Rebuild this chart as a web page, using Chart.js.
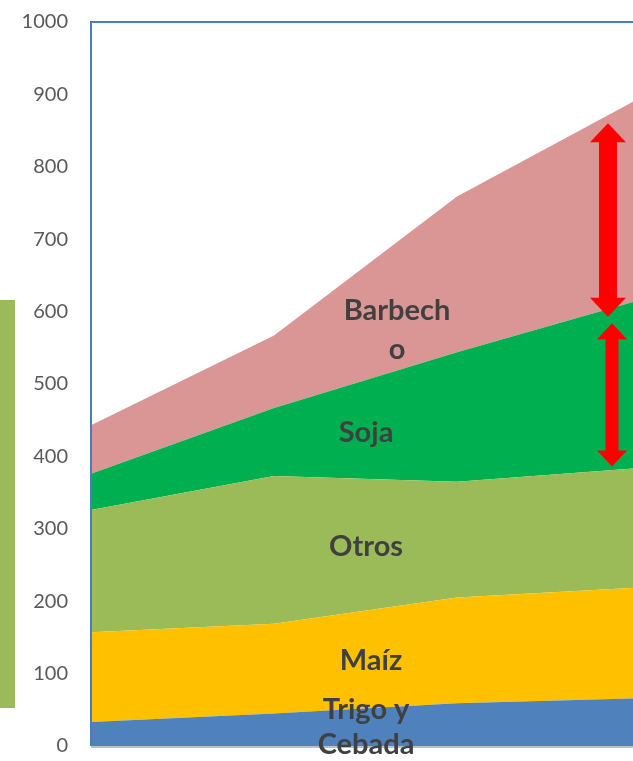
<!DOCTYPE html>
<html><head><meta charset="utf-8">
<script src="https://cdn.jsdelivr.net/npm/chart.js@4"></script>
<style>
html,body{margin:0;padding:0;overflow:hidden;background:#fff;width:633px;height:761px;}
#wrap{position:absolute;left:0;top:-13px;width:642px;height:794px;}
#side{position:absolute;left:0;top:300px;width:15px;height:408px;background:#9BBB59;}
</style></head><body>
<div id="wrap"><canvas id="c"></canvas></div>
<div id="side"></div>
<script>
// Data (x positions 0..3 = four periods)
const periods = [0, 1, 2, 3];
const trigoCebada = [33, 45, 59, 66];
const maiz = [124, 124, 146, 153];
const otros = [169, 204, 160, 165];
const soja = [50, 94, 179, 232];
const barbecho = [67, 100, 215, 279];
const yTicks = [0,100,200,300,400,500,600,700,800,900,1000];

const seriesNames = ['Trigo y Cebada', 'Maíz', 'Otros', 'Soja', 'Barbecho'];
const seriesValues = [trigoCebada, maiz, otros, soja, barbecho];
const seriesColors = ['#4F81BD', '#FFC000', '#9BBB59', '#00B050', '#D99694'];

// In-area labels (data coordinates)
const areaLabels = [
  {lines: ['Barbech', 'o'], x: 1.672, y: [589, 535]},
  {lines: ['Soja'], x: 1.503, y: [420]},
  {lines: ['Otros'], x: 1.503, y: [262]},
  {lines: ['Maíz'], x: 1.53, y: [105]},
  {lines: ['Trigo y', 'Cebada'], x: 1.503, y: [37, -11]}
];
// Double arrows (data coordinates)
const arrows = [
  {x: 2.825, top: 860, bottom: 593, shaft: 18, head: 36, headLen: 19},
  {x: 2.847, top: 584, bottom: 386, shaft: 13, head: 30, headLen: 16}
];

const datasets = seriesValues.map((vals, i) => ({
  label: seriesNames[i],
  data: periods.map((p, j) => ({x: p, y: vals[j]})),
  backgroundColor: seriesColors[i],
  borderWidth: 0,
  borderColor: seriesColors[i],
  pointRadius: 0,
  tension: 0,
  fill: i === 0 ? 'origin' : '-1'
}));

const decor = {
  id: 'decor',
  afterDatasetsDraw(chart) {
    const {ctx, chartArea: a, scales: {x, y}} = chart;
    ctx.save();
    ctx.strokeStyle = '#BFBFBF';
    ctx.lineWidth = 2;
    ctx.beginPath(); ctx.moveTo(a.left, a.bottom + 1); ctx.lineTo(a.right, a.bottom + 1); ctx.stroke();
    ctx.strokeStyle = '#4A7EBB';
    ctx.lineWidth = 2;
    ctx.beginPath();
    ctx.moveTo(a.left, a.bottom); ctx.lineTo(a.left, a.top); ctx.lineTo(a.right, a.top); ctx.lineTo(a.right, a.bottom);
    ctx.stroke();
    ctx.fillStyle = '#404040';
    ctx.font = 'bold 29px Lato';
    ctx.textAlign = 'center';
    ctx.textBaseline = 'alphabetic';
    areaLabels.forEach(l => {
      l.lines.forEach((t, k) => ctx.fillText(t, x.getPixelForValue(l.x), y.getPixelForValue(l.y[k])));
    });
    ctx.fillStyle = '#FF0000';
    arrows.forEach(ar => {
      const cx = x.getPixelForValue(ar.x);
      const t = y.getPixelForValue(ar.top), b = y.getPixelForValue(ar.bottom);
      const s = ar.shaft / 2, h = ar.head / 2, L = ar.headLen;
      ctx.beginPath();
      ctx.moveTo(cx, t);
      ctx.lineTo(cx + h, t + L); ctx.lineTo(cx + s, t + L);
      ctx.lineTo(cx + s, b - L); ctx.lineTo(cx + h, b - L);
      ctx.lineTo(cx, b);
      ctx.lineTo(cx - h, b - L); ctx.lineTo(cx - s, b - L);
      ctx.lineTo(cx - s, t + L); ctx.lineTo(cx - h, t + L);
      ctx.closePath();
      ctx.fill();
    });
    ctx.restore();
  }
};

new Chart(document.getElementById('c'), {
  type: 'line',
  data: {datasets},
  options: {
    responsive: true,
    maintainAspectRatio: false,
    animation: false,
    layout: {padding: {left: 0, top: 8, bottom: 0, right: 2}},
    plugins: {legend: {display: false}, tooltip: {enabled: false}},
    scales: {
      x: {type: 'linear', min: 0, max: 3, display: false},
      y: {
        stacked: true, min: 0, max: 1000,
        afterBuildTicks(s) { s.ticks = yTicks.map(v => ({value: v})); },
        afterFit(s) { s.width = 91; },
        grid: {display: false, drawTicks: false},
        border: {display: false},
        ticks: {padding: 23, color: '#595959', font: {family: 'Lato', size: 20}, callback: v => String(v)}
      }
    }
  },
  plugins: [decor]
});
</script>
</body></html>
